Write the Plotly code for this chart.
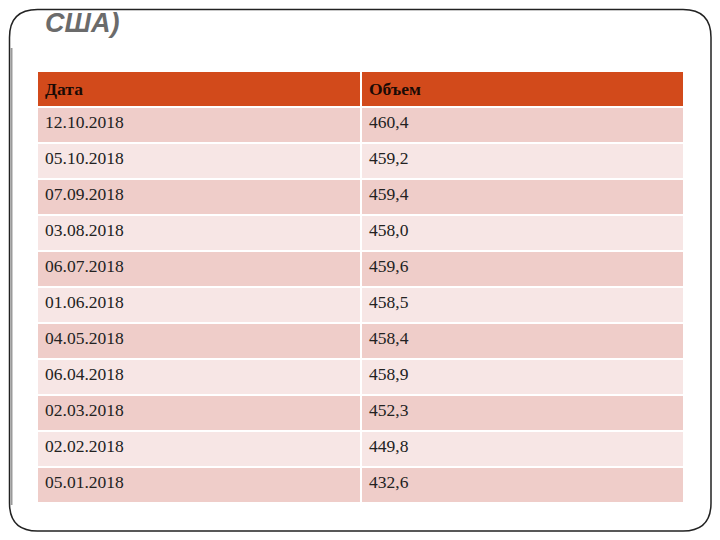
import plotly.graph_objects as go

# Table data
dates = ["12.10.2018", "05.10.2018", "07.09.2018", "03.08.2018", "06.07.2018",
         "01.06.2018", "04.05.2018", "06.04.2018", "02.03.2018", "02.02.2018",
         "05.01.2018"]
volumes = ["460,4", "459,2", "459,4", "458,0", "459,6", "458,5", "458,4",
           "458,9", "452,3", "449,8", "432,6"]
headers = ["Дата", "Объем"]
title_text = "США)"

# the page body adds an 8px margin on every side, so keep the figure inside it
OFF = 8
W, H = 720 - 2 * OFF, 540 - 2 * OFF


def px(x):
    return (x - OFF) / W


def py(y):
    return 1 - (y - OFF) / H


dark_row = "#EFCDC9"
light_row = "#F7E6E5"
row_colors = [dark_row if i % 2 == 0 else light_row for i in range(len(dates))]

fig = go.Figure()

fig.add_trace(go.Table(
    domain=dict(x=[px(37), px(684)], y=[py(503), py(71)]),
    columnwidth=[324, 323],
    header=dict(
        values=["<b>%s</b>" % h for h in headers],
        fill_color="#D24A1B",
        line=dict(color="white", width=2),
        align="left",
        height=36,
        font=dict(family="Liberation Serif", size=17.5, color="#1a0a05"),
    ),
    cells=dict(
        values=[dates, volumes],
        fill_color=[row_colors, row_colors],
        line=dict(color="white", width=2),
        align="left",
        height=36,
        font=dict(family="Liberation Serif", size=17.5, color="#222222"),
    ),
))

# slide frame with rounded corners
r = 28
x0, x1, y0, y1 = px(9.5), px(711), py(9.5), py(531)
rx, ry = r / W, r / H
frame = (f"M {x0 + rx},{y0} L {x1 - rx},{y0} Q {x1},{y0} {x1},{y0 - ry} "
         f"L {x1},{y1 + ry} Q {x1},{y1} {x1 - rx},{y1} "
         f"L {x0 + rx},{y1} Q {x0},{y1} {x0},{y1 + ry} "
         f"L {x0},{y0 - ry} Q {x0},{y0} {x0 + rx},{y0} Z")
fig.add_shape(type="path", path=frame, xref="paper", yref="paper",
              line=dict(color="#222222", width=1.5))
fig.add_shape(type="line", x0=px(11.5), x1=px(11.5), y0=py(48), y1=py(505),
              xref="paper", yref="paper", line=dict(color="#9a9a9a", width=2))

fig.add_annotation(text="<b><i>%s</i></b>" % title_text, xref="paper", yref="paper",
                   x=px(43), y=py(23), xanchor="left", yanchor="middle",
                   showarrow=False,
                   font=dict(family="Liberation Sans", size=27, color="#6b6b6b"))

fig.update_layout(width=W, height=H, margin=dict(l=0, r=0, t=0, b=0),
                  paper_bgcolor="white", plot_bgcolor="white", showlegend=False)

fig.write_html("out.html")
